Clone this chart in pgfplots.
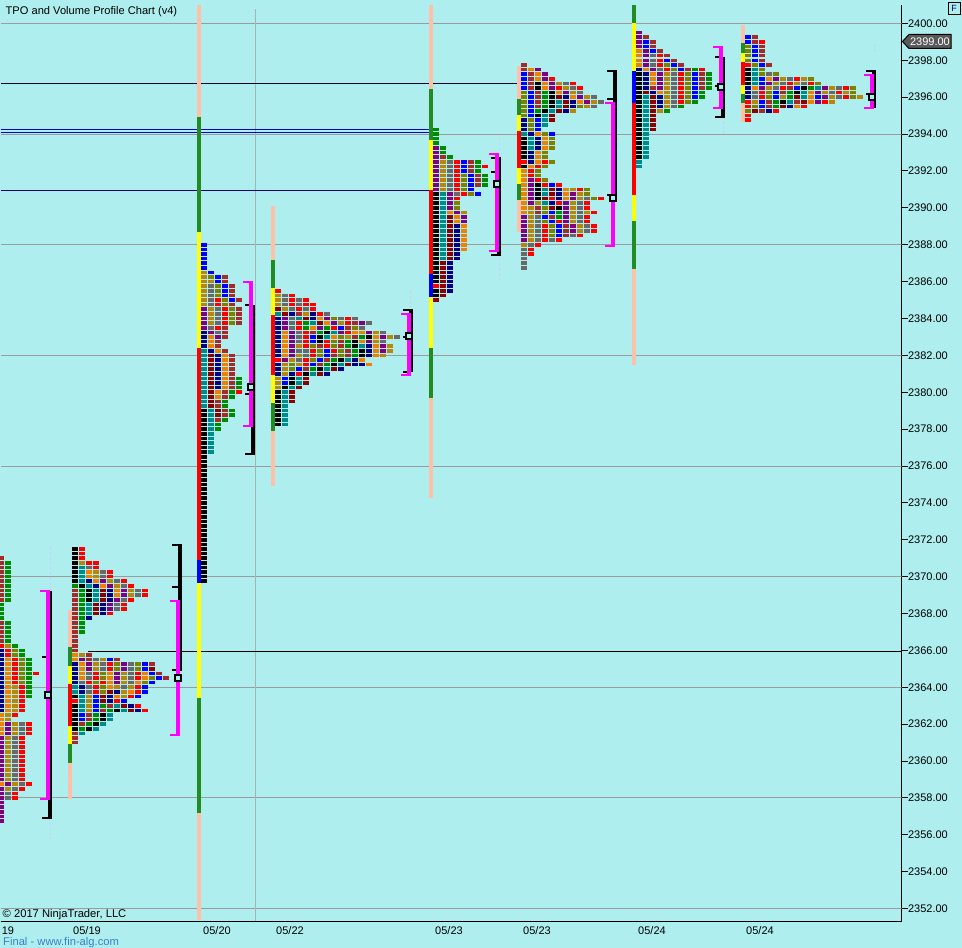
\documentclass[border=0pt]{standalone}
\usepackage{fontspec}
\setmainfont{Liberation Sans}
\usepackage{pgfplots}
\pgfplotsset{compat=1.18}

\definecolor{bg}{HTML}{AFEEEE}
\definecolor{gridc}{HTML}{9C9C9C}
\definecolor{dashc}{HTML}{C4D4F6}
\definecolor{peach}{HTML}{FFC0A8}
\definecolor{tpogreen}{HTML}{228B22}
\definecolor{yel}{HTML}{FFFF00}
\definecolor{mag}{HTML}{FF00FF}
\definecolor{linkc}{HTML}{3A80C8}
\definecolor{cK}{HTML}{000000}
\definecolor{cR}{HTML}{FF0000}
\definecolor{cB}{HTML}{0000FF}
\definecolor{cN}{HTML}{000080}
\definecolor{cG}{HTML}{008B00}
\definecolor{cT}{HTML}{008B8B}
\definecolor{cO}{HTML}{F08000}
\definecolor{cD}{HTML}{B8860B}
\definecolor{cS}{HTML}{696969}
\definecolor{cP}{HTML}{800080}
\definecolor{cW}{HTML}{A52A2A}
\definecolor{cM}{HTML}{8B0000}
\definecolor{cL}{HTML}{808000}

\pgfdeclareplotmark{cell}{%
  \pgfpathrectangle{\pgfpoint{-3pt}{-1.8pt}}{\pgfpoint{6pt}{3.6pt}}%
  \pgfusepathqfill}

% profile cells: \P{x of first column}, then \R{price}{one letter per cell}
\newcount\cx
\newcount\startx
\def\allcells{}
\def\P#1{\startx=#1\relax}
\def\R#1#2{\def\rowy{#1}\cx=\startx \Rl#2\relax}
\def\Rl#1{\ifx#1\relax\else
  \edef\allcells{\allcells (\the\cx,\rowy) [#1]}%
  \advance\cx by 7 \expandafter\Rl\fi}

\pgfplotsset{cellplot/.style={only marks, mark=cell, scatter, point meta=explicit symbolic,
  scatter/classes={
    k={fill=cK},r={fill=cR},b={fill=cB},n={fill=cN},g={fill=cG},t={fill=cT},o={fill=cO},
    d={fill=cD},s={fill=cS},p={fill=cP},w={fill=cW},m={fill=cM},l={fill=cL}}}}

\newcommand\seg[4]{\addplot[#4,line width=4pt] coordinates {(#1,#2) (#1,#3)};}
\newcommand\tck[4]{\addplot[#4,line width=2pt] coordinates {(#1,#3) (#2,#3)};}
\newcommand\hln[4]{\addplot[#4,line width=1pt] coordinates {(#1,#3) (#2,#3)};}
\newcommand\dsh[3]{\addplot[dashc,line width=1pt,dash pattern=on 3pt off 2pt] coordinates {(#1,#2) (#1,#3)};}

% 1
\P{1}
\R{2371.00}{w}
\R{2370.75}{wg}\R{2370.50}{wg}\R{2370.25}{wg}\R{2370.00}{wg}\R{2369.75}{wg}
\R{2369.50}{wg}\R{2369.25}{wg}\R{2369.00}{wg}\R{2368.75}{wg}
\R{2368.50}{g}\R{2368.25}{g}\R{2368.00}{g}\R{2367.75}{g}
\R{2367.50}{wg}\R{2367.25}{wg}\R{2367.00}{wg}\R{2366.75}{wg}\R{2366.50}{wg}
\R{2366.25}{rdg}\R{2366.00}{nrlg}\R{2365.75}{nrlg}
\R{2365.50}{norlg}\R{2365.25}{norlg}\R{2365.00}{norlg}\R{2364.75}{norlgr}
\R{2364.50}{norlg}\R{2364.25}{norlg}\R{2364.00}{nodrg}\R{2363.75}{nodrg}\R{2363.50}{nodrg}
\R{2363.25}{nodr}\R{2363.00}{nodr}\R{2362.75}{nodr}\R{2362.50}{odr}\R{2362.25}{od}
\R{2362.00}{opdsr}\R{2361.75}{opdsr}\R{2361.50}{opdsr}
\R{2361.25}{pdsr}\R{2361.00}{pdsr}\R{2360.75}{pdsr}\R{2360.50}{pdsr}\R{2360.25}{pdsr}
\R{2360.00}{pdsr}\R{2359.75}{pdsr}\R{2359.50}{pdsr}\R{2359.25}{pdsr}\R{2359.00}{pdsr}
\R{2358.75}{opdsr}\R{2358.50}{pdsr}\R{2358.25}{psr}\R{2358.00}{psr}
\R{2357.75}{p}\R{2357.50}{p}\R{2357.25}{p}\R{2357.00}{p}\R{2356.75}{p}
% 2
\P{75}
\R{2371.50}{kr}\R{2371.25}{kr}\R{2371.00}{kr}\R{2370.75}{kdrr}\R{2370.50}{ktsr}
\R{2370.25}{ktodsr}\R{2370.00}{ktodsr}\R{2369.75}{ktnopdsr}\R{2369.50}{gktnopdsr}
\R{2369.25}{wgktmnopdsr}\R{2369.00}{wgktmnopdsr}\R{2368.75}{wgktmnpsr}
\R{2368.50}{wgtmnpsr}\R{2368.25}{wgtmnpsr}\R{2368.00}{wgtmnr}\R{2367.75}{wgn}
\R{2367.50}{wg}\R{2367.25}{wg}\R{2367.00}{wg}
\R{2366.75}{w}\R{2366.50}{w}\R{2366.25}{w}\R{2366.00}{w}
\R{2365.75}{odw}\R{2365.50}{opwsdbw}
\R{2365.25}{nopdsrlpslbw}\R{2365.00}{nopdsrlpslbm}\R{2364.75}{nosrlopdsrobw}
\R{2364.50}{nosrlopdsrolbw}\R{2364.25}{nsrlropdsolb}\R{2364.00}{tnsrlodsdrb}
\R{2363.75}{tnsrlmndorb}\R{2363.50}{ktdbmnodrb}\R{2363.25}{rtdbmnrb}
\R{2363.00}{ktdbgwtmnr}\R{2362.75}{ktdbwgktmnr}\R{2362.50}{kbwgkt}\R{2362.25}{kbwgkt}
\R{2362.00}{kwgkt}\R{2361.75}{kgkt}\R{2361.50}{wt}\R{2361.25}{w}\R{2361.00}{w}
% 3
\P{204}
\R{2388.00}{b}\R{2387.75}{b}\R{2387.50}{b}\R{2387.25}{b}\R{2387.00}{b}\R{2386.75}{b}
\R{2386.50}{db}\R{2386.25}{dlbw}\R{2386.00}{ddbw}\R{2385.75}{dslbw}\R{2385.50}{dslbw}
\R{2385.25}{dslbw}\R{2385.00}{dsrlbw}\R{2384.75}{dsrlw}\R{2384.50}{pdsrlw}\R{2384.25}{pdsrlw}
\R{2384.00}{pdsrlw}\R{2383.75}{pdsrlw}\R{2383.50}{psrw}\R{2383.25}{npsw}\R{2383.00}{nopw}
\R{2382.75}{now}\R{2382.50}{now}\R{2382.25}{tnow}\R{2382.00}{tmnow}\R{2381.75}{tmnow}
\R{2381.50}{tmnow}\R{2381.25}{tmnow}\R{2381.00}{tmnow}\R{2380.75}{tmnowg}\R{2380.50}{tmnowg}
\R{2380.25}{tmnowg}\R{2380.00}{tmowgr}\R{2379.75}{tmowg}\R{2379.50}{tmwg}\R{2379.25}{tmwg}
\R{2379.00}{ktmwg}\R{2378.75}{ktmwg}\R{2378.50}{ktwg}\R{2378.25}{ktg}\R{2378.00}{ktg}
\R{2377.75}{kt}\R{2377.50}{kt}\R{2377.25}{kt}\R{2377.00}{kt}\R{2376.75}{kt}
\R{2376.50}{k}\R{2376.25}{k}\R{2376.00}{k}\R{2375.75}{k}\R{2375.50}{k}\R{2375.25}{k}\R{2375.00}{k}
\R{2374.75}{k}\R{2374.50}{k}\R{2374.25}{k}\R{2374.00}{k}\R{2373.75}{k}\R{2373.50}{k}\R{2373.25}{k}
\R{2373.00}{k}\R{2372.75}{k}\R{2372.50}{k}\R{2372.25}{k}\R{2372.00}{k}\R{2371.75}{k}\R{2371.50}{k}
\R{2371.25}{k}\R{2371.00}{k}\R{2370.75}{k}\R{2370.50}{k}\R{2370.25}{k}\R{2370.00}{k}\R{2369.75}{k}
% 4
\P{278}
\R{2385.50}{r}\R{2385.25}{dsr}\R{2385.00}{dsrsr}\R{2384.75}{dsrsrr}\R{2384.50}{mdsrsr}
\R{2384.25}{tmnwdnrs}\R{2384.00}{npstmnoplsrs}\R{2383.75}{npsrgtmopdrwps}
\R{2383.50}{npsrgopgrbwls}\R{2383.25}{nopsrwgktproopds}\R{2383.00}{nopsrbktoldwgkopds}
\R{2382.75}{nopsrbkrlwgkopds}\R{2382.50}{nopdrlwrlwgktnopd}\R{2382.25}{nopssrlbrlwgknopd}
\R{2382.00}{nopdsrlbwlwgknod}\R{2381.75}{rpdsrlbwgktno}\R{2381.50}{ndldrbwgktmnno}
\R{2381.25}{ndlbwgktmn}\R{2381.00}{ndnrktmn}\R{2380.75}{dbktm}\R{2380.50}{dbktm}
\R{2380.25}{dktm}\R{2380.00}{ktm}\R{2379.75}{ktm}\R{2379.50}{ktm}
\R{2379.25}{kt}\R{2379.00}{kt}\R{2378.75}{kt}\R{2378.50}{kt}\R{2378.25}{kt}
% 5
\P{436}
\R{2394.25}{g}\R{2394.00}{g}\R{2393.75}{g}\R{2393.50}{g}\R{2393.25}{pg}\R{2393.00}{pg}
\R{2392.75}{pwg}\R{2392.50}{pdsrbwg}\R{2392.25}{pdsrbwgr}\R{2392.00}{pdsrbwg}
\R{2391.75}{pdsrlbwg}\R{2391.50}{pdsrlbwg}\R{2391.25}{pdsrlbwg}\R{2391.00}{pdsrlb}
\R{2390.75}{ktpsrlb}\R{2390.50}{ktpr}\R{2390.25}{ktpl}\R{2390.00}{ktpl}\R{2389.75}{ktopd}
\R{2389.50}{ktmop}\R{2389.25}{ktmop}\R{2389.00}{ktmno}\R{2388.75}{ktmno}\R{2388.50}{ktmno}
\R{2388.25}{ktmno}\R{2388.00}{ktmno}\R{2387.75}{ktmno}\R{2387.50}{ktmn}\R{2387.25}{ktmn}
\R{2387.00}{kmn}\R{2386.75}{kmn}\R{2386.50}{kmn}\R{2386.25}{kmn}\R{2386.00}{kmn}
\R{2385.75}{rmn}\R{2385.50}{kmn}\R{2385.25}{km}\R{2385.00}{m}
% 6
\P{524}
\R{2397.75}{w}\R{2397.50}{wop}\R{2397.25}{bwop}\R{2397.00}{bwopr}\R{2396.75}{bwkopdsr}
\R{2396.50}{bwkoprdsr}\R{2396.25}{lbwgkopds}\R{2396.00}{lbwgkmnopds}\R{2395.75}{lbwgktmnopds}
\R{2395.50}{lbwgktmnlds}\R{2395.25}{lbgktmnd}\R{2395.00}{lbktm}\R{2394.75}{nlbtm}
\R{2394.50}{nlbt}\R{2394.25}{nlb}\R{2394.00}{tnolb}\R{2393.75}{ktnol}\R{2393.50}{ktnol}
\R{2393.25}{ktnol}\R{2393.00}{knol}\R{2392.75}{knol}\R{2392.50}{rnorl}\R{2392.25}{korl}
\R{2392.00}{orl}\R{2391.75}{orl}\R{2391.50}{oprl}\R{2391.25}{opkrbr}\R{2391.00}{opktmnodrl}
\R{2390.75}{opktmnopdl}\R{2390.50}{opkmrnopdslr}\R{2390.25}{opdtnrpdsr}\R{2390.00}{odwlmkpdsr}
\R{2389.75}{odwlbgpdsdr}\R{2389.50}{pdsbwgpdsr}\R{2389.25}{pdslbrpdsr}\R{2389.00}{pdsrlbwpdsr}
\R{2388.75}{pdsrlbwpdsr}\R{2388.50}{pdsrlbwsr}\R{2388.25}{pdsrsr}\R{2388.00}{dsr}
\R{2387.75}{sr}\R{2387.50}{sr}\R{2387.25}{s}\R{2387.00}{s}\R{2386.75}{s}
% 7
\P{639}
\R{2399.50}{p}\R{2399.25}{pw}\R{2399.00}{pbw}\R{2398.75}{pbw}\R{2398.50}{opbw}\R{2398.25}{opsrw}
\R{2398.00}{opsrbw}\R{2397.75}{opsrlbw}\R{2397.50}{nopsrlbwgr}\R{2397.25}{knopdsrlbwg}
\R{2397.00}{knopdsrlbwg}\R{2396.75}{knopdsrlbwg}\R{2396.50}{knwpdsrlbwg}\R{2396.25}{kmnodsrlbg}
\R{2396.00}{ktmndsrlbg}\R{2395.75}{ktmndsrlg}\R{2395.50}{ktmndsg}\R{2395.25}{ktmdg}
\R{2395.00}{ktm}\R{2394.75}{ktm}\R{2394.50}{ktm}\R{2394.25}{ktm}\R{2394.00}{kt}\R{2393.75}{kt}
\R{2393.50}{kt}\R{2393.25}{kt}\R{2393.00}{kt}\R{2392.75}{kt}\R{2392.50}{t}\R{2392.25}{t}
% 8
\P{748}
\R{2399.25}{bw}\R{2399.00}{bwr}\R{2398.75}{lbw}\R{2398.50}{lbw}\R{2398.25}{lbw}\R{2398.00}{lbw}
\R{2397.75}{rlbw}\R{2397.50}{ktl}\R{2397.25}{ktlsl}\R{2397.00}{ktbopdsrdl}\R{2396.75}{ktbpdsrdsrl}
\R{2396.50}{nopdsrwbkgtpdsrl}\R{2396.25}{nsrlbwgktopdsrdl}\R{2396.00}{nsrlbdgmtobpdsrld}
\R{2395.75}{rdbwgktwmoprd}\R{2395.50}{rlbwgmnor}\R{2395.25}{lmwnr}\R{2395.00}{r}\R{2394.75}{r}

\begin{document}
\begin{tikzpicture}[x=1pt,y=1pt]
\useasboundingbox (0,0) rectangle (962,948);
\fill[bg] (0,0) rectangle (962,948);
\begin{axis}[
    at={(1pt,26.5pt)}, anchor=south west,
    scale only axis, width=900.5pt, height=916.5pt,
    xmin=1, xmax=901.5, ymin=2351.30, ymax=2401.0,
    axis x line*=bottom, axis y line*=right,
    axis line style={-, black, line width=1pt},
    xtick={8,87,217,290,449,537,652,760},
    xticklabels={19,05/19,05/20,05/22,05/23,05/23,05/24,05/24},
    xtick style={draw=none},
    xticklabel style={font=\fontsize{11}{12}\selectfont, anchor=north, yshift=4.5pt},
    ytick={2352,2354,...,2400},
    ytick style={black, line width=1pt},
    tick align=outside, major tick length=6pt,
    yticklabel style={font=\fontsize{11}{12}\selectfont, anchor=west, xshift=-3pt,
      /pgf/number format/.cd, fixed, fixed zerofill, precision=2, 1000 sep={}, assume math mode=true},
  ]
% grid lines
\hln{1}{901.5}{2400}{gridc}\hln{1}{901.5}{2394}{gridc}\hln{1}{901.5}{2388}{gridc}
\hln{1}{901.5}{2382}{gridc}\hln{1}{901.5}{2376}{gridc}\hln{1}{901.5}{2370}{gridc}
\hln{1}{901.5}{2364}{gridc}\hln{1}{901.5}{2358}{gridc}\hln{1}{901.5}{2352}{gridc}
\addplot[gridc!70!bg,line width=1pt] coordinates {(255.5,2351.3) (255.5,2400.8)};
% dashed session marks
\dsh{50.5}{2371.6}{2355.8}\dsh{499.5}{2393.8}{2386.1}\dsh{410.5}{2385.5}{2384.6}
\dsh{617.5}{2395.9}{2395.3}\dsh{617.5}{2393.8}{2393.2}\dsh{723.5}{2396.9}{2394}\dsh{874}{2398.9}{2398.4}
% reference levels
\hln{1}{519}{2396.76}{black!60!cN}
\addplot[cB!80!black,line width=0.8pt] coordinates {(1,2394.24) (431,2394.24)};
\addplot[cB!80!black,line width=0.8pt] coordinates {(1,2394.11) (431,2394.11)};
\hln{1}{431}{2390.94}{cN}\hln{88}{901.5}{2365.95}{black}
% range bars
\seg{70}{2368.20}{2366.19}{peach}\seg{70}{2366.19}{2365.16}{tpogreen}\seg{70}{2365.16}{2364.18}{yel}
\seg{70}{2364.18}{2361.90}{cR}\seg{70}{2361.90}{2360.93}{yel}\seg{70}{2360.93}{2359.90}{tpogreen}\seg{70}{2359.90}{2357.95}{peach}
\seg{199}{2401.00}{2394.95}{peach}\seg{199}{2394.95}{2388.69}{tpogreen}\seg{199}{2388.69}{2382.40}{yel}
\seg{199}{2382.40}{2370.90}{cR}\seg{199}{2370.90}{2369.66}{cB}\seg{199}{2369.66}{2363.42}{yel}
\seg{199}{2363.42}{2357.18}{tpogreen}\seg{199}{2357.18}{2351.40}{peach}
\seg{273}{2390.10}{2387.17}{peach}\seg{273}{2387.17}{2385.66}{tpogreen}\seg{273}{2385.66}{2384.19}{yel}
\seg{273}{2384.19}{2380.94}{cR}\seg{273}{2380.94}{2379.42}{yel}\seg{273}{2379.42}{2377.90}{tpogreen}\seg{273}{2377.90}{2374.92}{peach}
\seg{431}{2401.00}{2396.45}{peach}\seg{431}{2396.45}{2393.68}{tpogreen}\seg{431}{2393.68}{2390.97}{yel}
\seg{431}{2390.97}{2386.42}{cR}\seg{431}{2386.42}{2385.17}{cB}\seg{431}{2385.17}{2382.40}{yel}
\seg{431}{2382.40}{2379.69}{tpogreen}\seg{431}{2379.69}{2374.27}{peach}
\seg{519}{2397.70}{2395.91}{peach}\seg{519}{2395.91}{2395.04}{tpogreen}\seg{519}{2395.04}{2394.17}{yel}
\seg{519}{2394.17}{2392.16}{cR}\seg{519}{2392.16}{2391.30}{yel}\seg{519}{2391.30}{2390.43}{tpogreen}\seg{519}{2390.43}{2388.69}{peach}
\seg{634}{2401.00}{2400.03}{tpogreen}\seg{634}{2400.03}{2397.42}{yel}\seg{634}{2397.42}{2395.69}{cB}
\seg{634}{2395.69}{2390.70}{cR}\seg{634}{2390.70}{2389.29}{yel}\seg{634}{2389.29}{2386.69}{tpogreen}\seg{634}{2386.69}{2381.48}{peach}
\seg{743}{2399.92}{2398.94}{peach}\seg{743}{2398.94}{2398.40}{tpogreen}\seg{743}{2398.40}{2397.91}{yel}
\seg{743}{2397.91}{2396.66}{cR}\seg{743}{2396.66}{2396.18}{yel}\seg{743}{2396.18}{2395.69}{tpogreen}\seg{743}{2395.69}{2394.66}{peach}
% cells
\edef\temp{\noexpand\addplot[cellplot] coordinates {\allcells};}\temp
% black brackets
\seg{50}{2369.22}{2356.93}{black}\tck{42}{52}{2356.93}{black}\tck{42}{48}{2365.66}{black}
\seg{180}{2371.69}{2364.89}{black}\tck{172}{182}{2371.69}{black}\tck{172}{180}{2369.44}{black}\tck{172}{180}{2364.94}{black}
\seg{253}{2384.71}{2376.65}{black}\tck{245}{253}{2384.71}{black}\tck{245}{253}{2379.91}{black}\tck{245}{255}{2376.65}{black}
\seg{411}{2384.46}{2381.10}{black}\tck{403}{413}{2384.46}{black}\tck{403}{411}{2381.10}{black}\tck{403}{411}{2383.00}{black}
\seg{499}{2392.71}{2387.45}{black}\tck{491}{501}{2392.71}{black}\tck{491}{499}{2391.95}{black}\tck{491}{501}{2387.45}{black}
\seg{615}{2397.42}{2390.43}{black}\tck{607}{617}{2397.42}{black}\tck{607}{615}{2395.91}{black}\tck{607}{615}{2390.70}{black}
\seg{723}{2398.18}{2394.93}{black}\tck{715}{723}{2398.18}{black}\tck{715}{723}{2396.61}{black}\tck{715}{725}{2394.93}{black}
\seg{874}{2397.44}{2395.42}{black}\tck{866}{876}{2397.44}{black}\tck{866}{874}{2396.18}{black}
% magenta brackets
\seg{48}{2369.22}{2357.96}{mag}\tck{40}{50}{2369.22}{mag}\tck{40}{50}{2357.96}{mag}
\seg{178}{2368.70}{2361.42}{mag}\tck{170}{180}{2368.70}{mag}\tck{170}{180}{2361.42}{mag}
\seg{251}{2385.98}{2378.17}{mag}\tck{243}{253}{2385.98}{mag}\tck{243}{253}{2378.17}{mag}
\seg{409}{2384.25}{2380.94}{mag}\tck{401}{411}{2384.25}{mag}\tck{401}{411}{2380.94}{mag}
\seg{497}{2392.92}{2387.66}{mag}\tck{489}{499}{2392.92}{mag}\tck{489}{499}{2387.66}{mag}
\seg{613}{2395.71}{2387.93}{mag}\tck{605}{615}{2395.71}{mag}\tck{605}{615}{2387.93}{mag}
\seg{721}{2398.73}{2395.42}{mag}\tck{713}{723}{2398.73}{mag}\tck{713}{723}{2395.42}{mag}
\seg{872}{2397.19}{2395.42}{mag}\tck{864}{874}{2397.19}{mag}\tck{864}{874}{2395.42}{mag}
% point of control
\addplot[only marks, mark=square*, mark size=3pt, mark options={draw=black, fill=bg, line width=2pt}]
  coordinates {(48,2363.56) (178,2364.53) (251,2380.31) (409,2383.05) (497,2391.30) (613,2390.56) (721,2396.53) (872,2396.01)};
\end{axis}
% texts
\node[anchor=west, inner sep=0pt, font=\fontsize{11.1}{12}\selectfont] at (5.5,936) {TPO and Volume Profile Chart (v4)};
\node[anchor=west, inner sep=0pt, font=\fontsize{11.2}{12}\selectfont] at (2.5,33) {© 2017 NinjaTrader, LLC};
\node[anchor=west, inner sep=0pt, font=\fontsize{11.2}{12}\selectfont, text=linkc] at (3,5.5) {Final - www.fin-alg.com};
% current price tag
\draw[black, fill=cS!85!black, line width=1pt] (902.5,906.5) -- (909,913.5) -- (951,913.5) -- (951,899.5) -- (909,899.5) -- cycle;
\node[anchor=east, inner sep=0pt, text=white, font=\fontsize{11}{12}\selectfont] at (950,906.5) {2399.00};
% F button
\draw[black, line width=1pt] (948.5,933.5) rectangle (960,945);
\node[inner sep=0pt, font=\fontsize{9}{10}\selectfont, text=cN] at (954.2,939.2) {F};
\end{tikzpicture}
\end{document}
